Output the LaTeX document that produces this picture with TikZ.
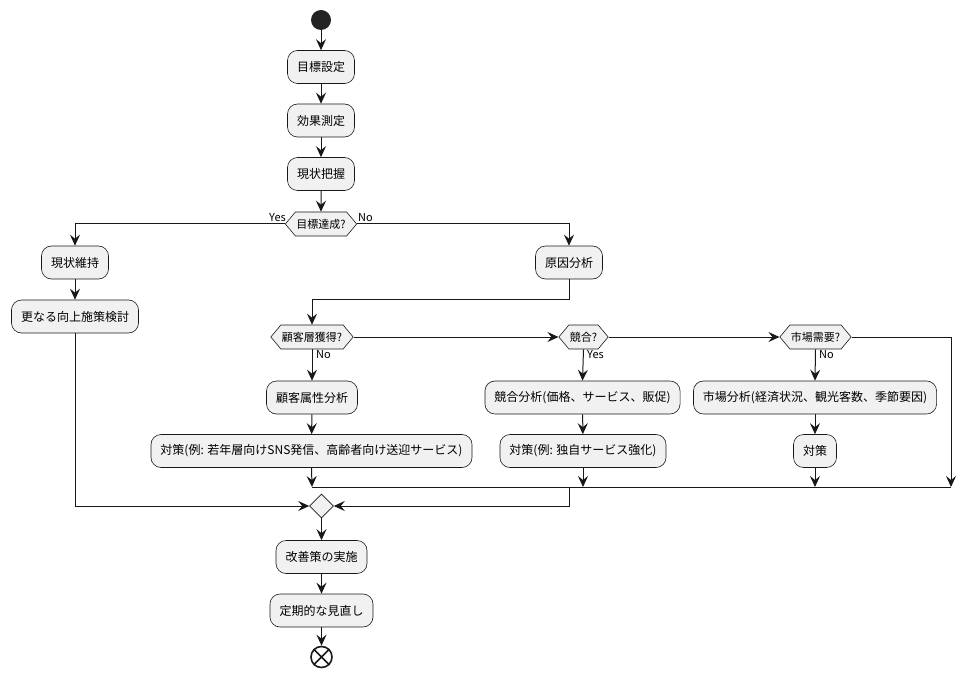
\documentclass[tikz,border=0pt]{standalone}
\usepackage{fontspec}
\setmainfont{Noto Sans CJK JP}
\usetikzlibrary{arrows.meta,shapes.geometric,shapes.symbols}
\definecolor{boxfill}{HTML}{F1F1F1}
\definecolor{ink}{HTML}{181818}
\tikzset{
  act/.style={draw=ink, line width=0.6pt, fill=boxfill, rounded corners=10pt,
    minimum height=33pt, inner xsep=9.5pt, inner ysep=0pt, font=\fontsize{12}{14}\selectfont},
  dec/.style={draw=ink, line width=0.6pt, fill=boxfill, shape=signal, signal to=west and east,
    signal pointer angle=100, minimum height=24pt, inner xsep=1pt, inner ysep=0pt,
    font=\fontsize{11}{13}\selectfont},
  mrg/.style={draw=ink, line width=0.6pt, fill=boxfill, shape=diamond, minimum size=24pt, inner sep=0pt},
  flow/.style={draw=ink, line width=1pt, -{Stealth[length=11pt,width=10pt,inset=4pt]}},
  line/.style={draw=ink, line width=1pt},
  lab/.style={font=\fontsize{11}{13}\selectfont, inner sep=0pt},
}
\begin{document}
\begin{tikzpicture}[x=1pt,y=-1pt]
\useasboundingbox (0,0) rectangle (976,676);
% nodes
\node[circle, fill=ink!95, minimum size=20pt, inner sep=0pt] (start) at (321,20) {};
\node[act] (t1) at (321,67) {目標設定};
\node[act] (t2) at (321,120.5) {効果測定};
\node[act] (t3) at (321,174) {現状把握};
\node[dec] (d1) at (321,224) {目標達成?};
\node[act] (l1) at (75,262.5) {現状維持};
\node[act] (l2) at (75,316.5) {更なる向上施策検討};
\node[act] (r1) at (569,262.5) {原因分析};
\node[dec] (d2) at (312,337) {顧客層獲得?};
\node[dec] (d3) at (583.5,337) {競合?};
\node[dec] (d4) at (815.5,337) {市場需要?};
\node[act] (a1) at (312,397.5) {顧客属性分析};
\node[act] (a2) at (311.5,451) {対策(例: 若年層向けSNS発信、高齢者向け送迎サービス)};
\node[act] (b1) at (582.5,397.5) {競合分析(価格、サービス、販促)};
\node[act] (b2) at (583,451) {対策(例: 独自サービス強化)};
\node[act] (c1) at (815,397.5) {市場分析(経済状況、観光客数、季節要因)};
\node[act] (c2) at (815,451) {対策};
\node[mrg] (m) at (321.5,506) {};
\node[act] (e1) at (321.5,557) {改善策の実施};
\node[act] (e2) at (321.5,610.5) {定期的な見直し};
\node[circle, draw=ink, line width=1.6pt, minimum size=21pt, inner sep=0pt] (end) at (321.5,657) {};
\draw[ink, line width=1.6pt] (end.north west) -- (end.south east) (end.north east) -- (end.south west);
% coordinates
\coordinate (j2) at (312,299);
\coordinate (ja) at (312,487);
\coordinate (jb) at (583,487);
\coordinate (jc) at (815,487);
\coordinate (jd) at (951,487);
\coordinate (jd0) at (951,337);
\coordinate (jm) at (569,487);
\coordinate (jm2) at (569,506);
\coordinate (jl) at (75,506);
% connectors
\draw[flow] (start) -- (t1);
\draw[flow] (t1) -- (t2);
\draw[flow] (t2) -- (t3);
\draw[flow] (t3) -- (d1);
\draw[flow] (d1.west) -| (l1.north);
\draw[flow] (d1.east) -| (r1.north);
\draw[flow] (l1) -- (l2);
\draw[flow] (r1.south) |- (j2) -- (d2.north);
\draw[flow] (d2.east) -- (d3.west);
\draw[flow] (d3.east) -- (d4.west);
\draw[flow] (d4.east) -- (jd0) -- (jd);
\draw[flow] (d2.south) -- (a1.north);
\draw[flow] (a1) -- (a2);
\draw[flow] (a2.south) -- (ja);
\draw[flow] (d3.south) -- (b1.north);
\draw[flow] (b1) -- (b2);
\draw[flow] (b2.south) -- (jb);
\draw[flow] (d4.south) -- (c1.north);
\draw[flow] (c1) -- (c2);
\draw[flow] (c2.south) -- (jc);
\draw[line] (ja) -- (jd);
\draw[flow] (jm) -- (jm2) -- (m.east);
\draw[flow] (l2.south) -- (jl) -- (m.west);
\draw[flow] (m) -- (e1);
\draw[flow] (e1) -- (e2);
\draw[flow] (e2) -- (end);
% labels
\node[lab, anchor=south east] (ly) at (286,222) {Yes};
\node[lab, anchor=south west] (ln) at (358,222) {No};
\node[lab, anchor=west] (n2) at (316,355) {No};
\node[lab, anchor=west] (y3) at (587,355) {Yes};
\node[lab, anchor=west] (n4) at (819,355) {No};
\end{tikzpicture}
\end{document}
